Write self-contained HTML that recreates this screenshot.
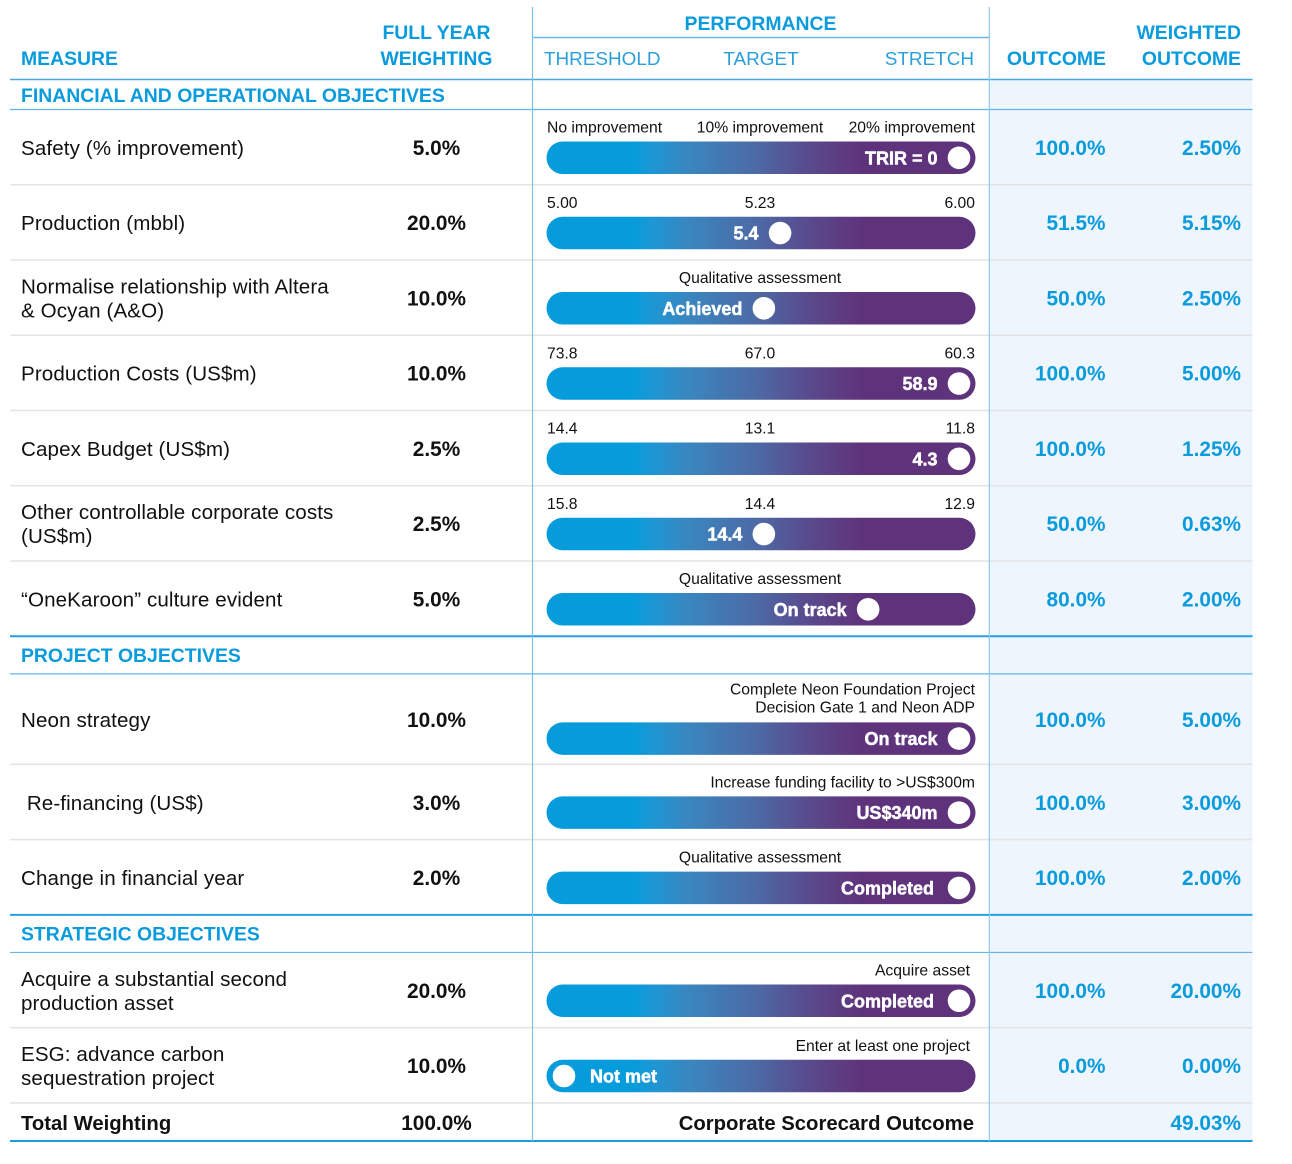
<!DOCTYPE html>
<html lang="en">
<head>
<meta charset="utf-8">
<title>Corporate Scorecard</title>
<style>
html,body{margin:0;padding:0;background:#fff;}
svg{display:block;}
text{font-family:"Liberation Sans",sans-serif;}
.hd{font-size:19.4px;font-weight:700;fill:#0a9bdd;}
.hl{font-size:18.9px;fill:#2a9fdc;}
.body{font-size:20.6px;letter-spacing:0.1px;fill:#111;}
.wt{font-size:20.8px;font-weight:700;fill:#111;}
.bold{font-size:20.3px;font-weight:700;fill:#111;}
.val{font-size:20.8px;font-weight:700;fill:#0a9bdd;}
.sc{font-size:15.7px;fill:#111;}
.mk{font-size:18px;font-weight:700;fill:#fff;stroke:#fff;stroke-width:0.5px;}
</style>
</head>
<body>
<svg id="chart" xmlns="http://www.w3.org/2000/svg" width="1292" height="1164" viewBox="0 0 1292 1164">
<defs>
<linearGradient id="barGrad" gradientUnits="userSpaceOnUse" x1="546.5" y1="0" x2="975.5" y2="0">
<stop offset="0.2" stop-color="#069cdb"/>
<stop offset="0.25" stop-color="#1e96d4"/>
<stop offset="0.33" stop-color="#3a86bf"/>
<stop offset="0.49" stop-color="#4d6aa5"/>
<stop offset="0.59" stop-color="#574f91"/>
<stop offset="0.68" stop-color="#5d3d82"/>
<stop offset="0.74" stop-color="#5f327c"/>
</linearGradient>
</defs>
<rect x="990" y="80" width="262.5" height="1061" fill="#eef5fd"/>
<g id="rules"></g>
<line x1="533" x2="989" y1="37.5" y2="37.5" stroke="#6db8e6" stroke-width="1.5"/>
<line x1="10" x2="1252.5" y1="79.5" y2="79.5" stroke="#4aa8e2" stroke-width="1.6"/>
<line x1="532.5" x2="532.5" y1="7" y2="1141" stroke="#7cc0ea" stroke-width="1.2"/>
<line x1="989.3" x2="989.3" y1="7" y2="1141" stroke="#8cc8ec" stroke-width="1.2"/>
<text class="hd" x="21" y="65">MEASURE</text>
<text class="hd" x="436.5" y="39" text-anchor="middle">FULL YEAR</text>
<text class="hd" x="436.5" y="65" text-anchor="middle">WEIGHTING</text>
<text class="hd" x="760.5" y="30" text-anchor="middle">PERFORMANCE</text>
<text class="hl" x="544" y="65">THRESHOLD</text>
<text class="hl" x="761" y="65" text-anchor="middle">TARGET</text>
<text class="hl" x="974" y="65" text-anchor="end">STRETCH</text>
<text class="hd" x="1106" y="65" text-anchor="end">OUTCOME</text>
<text class="hd" x="1241" y="39" text-anchor="end">WEIGHTED</text>
<text class="hd" x="1241" y="65" text-anchor="end">OUTCOME</text>
<g id="rows"></g>
</svg>
<script>
const sectionTitles = ["FINANCIAL AND OPERATIONAL OBJECTIVES", "PROJECT OBJECTIVES", "STRATEGIC OBJECTIVES"];
const sectionCounts = [7, 3, 2];
const measures = [
  ["Safety (% improvement)"],
  ["Production (mbbl)"],
  ["Normalise relationship with Altera", "& Ocyan (A&O)"],
  ["Production Costs (US$m)"],
  ["Capex Budget (US$m)"],
  ["Other controllable corporate costs", "(US$m)"],
  ["\u201COneKaroon\u201D culture evident"],
  ["Neon strategy"],
  ["\u00A0Re-financing (US$)"],
  ["Change in financial year"],
  ["Acquire a substantial second", "production asset"],
  ["ESG: advance carbon", "sequestration project"]
];
const weightings = ["5.0%", "20.0%", "10.0%", "10.0%", "2.5%", "2.5%", "5.0%", "10.0%", "3.0%", "2.0%", "20.0%", "10.0%"];
const thresholdLabels = ["No improvement", "5.00", "", "73.8", "14.4", "15.8", "", "", "", "", "", ""];
const targetLabels = ["10% improvement", "5.23", "Qualitative assessment", "67.0", "13.1", "14.4", "Qualitative assessment", "", "", "Qualitative assessment", "", ""];
const stretchLabels = [["20% improvement"], ["6.00"], [], ["60.3"], ["11.8"], ["12.9"], [], ["Complete Neon Foundation Project", "Decision Gate 1 and Neon ADP"], ["Increase funding facility to >US$300m"], [], ["Acquire asset"], ["Enter at least one project"]];
const resultLabels = ["TRIR = 0", "5.4", "Achieved", "58.9", "4.3", "14.4", "On track", "On track", "US$340m", "Completed", "Completed", "Not met"];
const markerProgress = [100, 54.7, 50.6, 100, 100, 50.6, 77, 100, 100, 100, 100, 0];
const outcomes = ["100.0%", "51.5%", "50.0%", "100.0%", "100.0%", "50.0%", "80.0%", "100.0%", "100.0%", "100.0%", "100.0%", "0.0%"];
const weightedOutcomes = ["2.50%", "5.15%", "2.50%", "5.00%", "1.25%", "0.63%", "2.00%", "5.00%", "3.00%", "2.00%", "20.00%", "0.00%"];
const totalWeighting = "100.0%";
const totalOutcome = "49.03%";

const NS = "http://www.w3.org/2000/svg";
const rowsG = document.getElementById("rows");
const rulesG = document.getElementById("rules");

function markerX(p) { return 564 + (959 - 564) * p / 100; }

function addText(parent, cls, x, y, anchor, str) {
  const t = document.createElementNS(NS, "text");
  t.setAttribute("class", cls);
  t.setAttribute("x", x);
  t.setAttribute("y", y);
  t.setAttribute("text-anchor", anchor);
  t.textContent = str;
  parent.appendChild(t);
  return t;
}
function addRule(y, color, w) {
  const l = document.createElementNS(NS, "line");
  l.setAttribute("x1", 10);
  l.setAttribute("x2", 1252.5);
  l.setAttribute("y1", y);
  l.setAttribute("y2", y);
  l.setAttribute("stroke", color);
  l.setAttribute("stroke-width", w);
  
  
  rulesG.appendChild(l);
}

let y = 80;
let idx = 0;
sectionTitles.forEach(function (title, s) {
  const headH = s === 0 ? 29.5 : 37.6;
  const st = addText(rowsG, "hd", 21, y + headH / 2 + 7, "start", title);
  
  
  y += headH;
  addRule(y, "#62b3e6", 1.2);
  for (let k = 0; k < sectionCounts[s]; k++, idx++) {
    const tall = stretchLabels[idx].length > 1;
    const h = tall ? 90.5 : 75.25;
    const bottom = y + h;
    const cy = y + h / 2 + 0.8;
    const g = document.createElementNS(NS, "g");
    
    
    rowsG.appendChild(g);

    const lines = measures[idx];
    lines.forEach(function (line, n) {
      const m = addText(g, "body", 21, cy + 7 + (n - (lines.length - 1) / 2) * 24, "start", line);
      
      
      m.style.whiteSpace = "pre";
    });
    const wt = addText(g, "wt", 436.5, cy + 7, "middle", weightings[idx]);
    
    

    const barTop = bottom - (tall ? 42 : 43.2);
    const base = tall ? barTop - 10 : barTop - 9;
    if (thresholdLabels[idx]) {
      const a = addText(g, "sc", 547, base, "start", thresholdLabels[idx]);
      
      
    }
    if (targetLabels[idx]) {
      const b = addText(g, "sc", 760, base, "middle", targetLabels[idx]);
      
      
    }
    const notes = stretchLabels[idx];
    const endX = s === 2 ? 970 : 975;
    notes.forEach(function (note, n) {
      const c = addText(g, "sc", endX, base - (notes.length - 1 - n) * 18, "end", note);
      
      
    });

    const bar = document.createElementNS(NS, "rect");
    bar.setAttribute("x", 546.5);
    bar.setAttribute("y", barTop);
    bar.setAttribute("width", 429);
    bar.setAttribute("height", 32.5);
    bar.setAttribute("rx", 16.25);
    bar.setAttribute("fill", "url(#barGrad)");
    
    
    g.appendChild(bar);

    const mx = markerX(markerProgress[idx]);
    const my = barTop + 16.25;
    const dot = document.createElementNS(NS, "circle");
    dot.setAttribute("cx", mx);
    dot.setAttribute("cy", my);
    dot.setAttribute("r", 11.3);
    dot.setAttribute("fill", "#fff");
    
    
    g.appendChild(dot);

    const atStart = markerProgress[idx] === 0;
    const gap = resultLabels[idx] === "Completed" ? 25 : 21.5;
    const rl = addText(g, "mk", atStart ? mx + 26 : mx - gap, my + 6.5, atStart ? "start" : "end", resultLabels[idx]);
    
    

    const o = addText(g, "val", 1105.5, cy + 7, "end", outcomes[idx]);
    
    
    const w = addText(g, "val", 1241, cy + 7, "end", weightedOutcomes[idx]);
    
    

    y = bottom;
    const last = k === sectionCounts[s] - 1 && s < sectionTitles.length - 1;
    if (last) addRule(y, "#22a0e2", 2);
    else addRule(y, "#e4e4e4", 1.6);
  }
});

const totalY = 1130;
const tl = addText(rowsG, "bold", 21, totalY, "start", "Total Weighting");


const tv = addText(rowsG, "wt", 436.5, totalY, "middle", totalWeighting);


const cl = addText(rowsG, "bold", 974, totalY, "end", "Corporate Scorecard Outcome");


const cv = addText(rowsG, "val", 1241, totalY, "end", totalOutcome);


addRule(1141, "#1a9cdc", 2);
</script>
</body>
</html>
